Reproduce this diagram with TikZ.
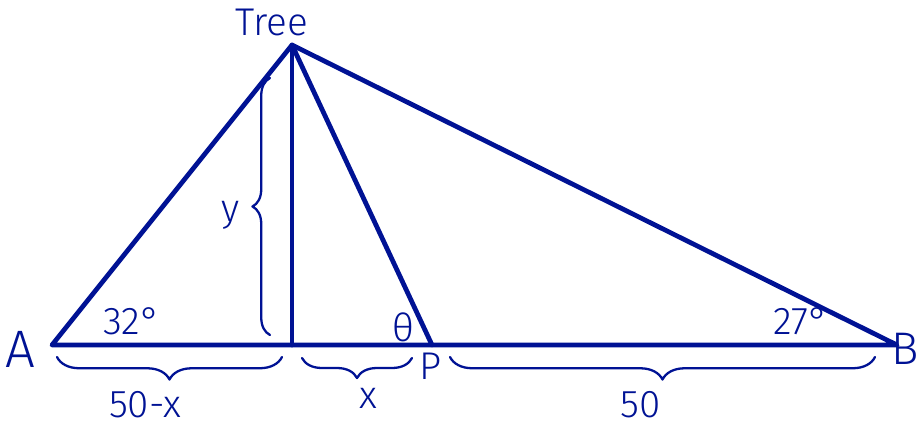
\documentclass[tikz,border=0pt]{standalone}
\usepackage{fontspec}
\setmainfont{Fira Sans Light}
\usetikzlibrary{decorations.pathreplacing}
\definecolor{ink}{RGB}{0,18,148}
\begin{document}
\begin{tikzpicture}[line cap=round,line join=round,color=ink,
  side/.style={line width=2.7pt},
  brc/.style={line width=1.3pt,decorate,decoration={brace,amplitude=#1}},
  lbl/.style={font=\fontsize{22}{24}\selectfont}]
  \useasboundingbox (0,0) rectangle (18.38,8.56);
  % points
  \coordinate (T) at (5.84,7.66);
  \coordinate (A) at (1.04,1.66);
  \coordinate (F) at (5.84,1.66);
  \coordinate (P) at (8.64,1.66);
  \coordinate (B) at (17.94,1.66);
  % triangle
  \draw[side] (A) -- (T) -- (B) -- cycle;
  \draw[side] (T) -- (F);
  \draw[side] (T) -- (P);
  % braces
  \coordinate (yb) at (5.40,1.86);
  \coordinate (yt) at (5.40,7.00);
  \draw[brc=0.35cm] (yb) -- (yt);
  \coordinate (ab) at (1.14,1.42);
  \coordinate (fb) at (5.64,1.42);
  \draw[brc=0.45cm,decoration={mirror}] (ab) -- (fb);
  \coordinate (fx) at (6.04,1.40);
  \coordinate (px) at (8.24,1.40);
  \draw[brc=0.40cm,decoration={mirror}] (fx) -- (px);
  \coordinate (p5) at (9.00,1.42);
  \coordinate (b5) at (17.50,1.42);
  \draw[brc=0.45cm,decoration={mirror}] (p5) -- (b5);
  % labels
  \node[lbl] (tree) at (5.44,8.12) {Tree};
  \node[lbl,font=\fontsize{30}{32}\selectfont] (a) at (0.40,1.58) {A};
  \node[lbl,font=\fontsize{26}{28}\selectfont,anchor=east,inner sep=0pt] (b) at (18.38,1.58) {B};
  \node[lbl] (p) at (8.62,1.24) {P};
  \node[lbl] (th) at (8.06,2.02) {θ};
  \node[lbl] (a32) at (2.64,2.14) {32°};
  \node[lbl] (a27) at (16.02,2.14) {27°};
  \node[lbl] (ly) at (4.62,4.26) {y};
  \node[lbl] (l50x) at (2.90,0.46) {50-x};
  \node[lbl] (lx) at (7.36,0.60) {x};
  \node[lbl] (l50) at (12.82,0.46) {50};
\end{tikzpicture}
\end{document}
